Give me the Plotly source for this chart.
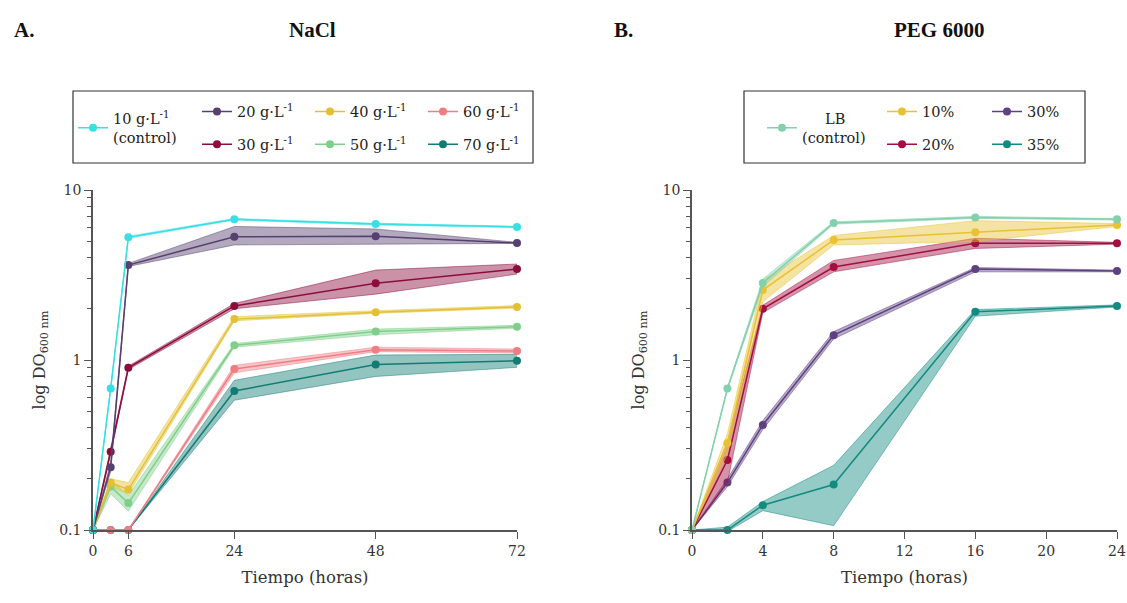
import plotly.graph_objects as go

# ---------------- DATA ----------------
t_nacl = [0, 3, 6, 24, 48, 72]
t_peg = [0, 2, 4, 8, 16, 24]

nacl_labels = ["10 g·L<sup>-1</sup><br>(control)", "20 g·L<sup>-1</sup>", "30 g·L<sup>-1</sup>",
               "40 g·L<sup>-1</sup>", "50 g·L<sup>-1</sup>", "60 g·L<sup>-1</sup>", "70 g·L<sup>-1</sup>"]
nacl_10 = [0.1, 0.68, 5.27, 6.73, 6.3, 6.06]
nacl_10_lo = [0.1, 0.67, 5.2, 6.65, 6.22, 6.0]
nacl_10_hi = [0.1, 0.69, 5.35, 6.8, 6.38, 6.12]
nacl_20 = [0.1, 0.234, 3.62, 5.31, 5.35, 4.88]
nacl_20_lo = [0.1, 0.22, 3.55, 4.75, 4.8, 4.85]
nacl_20_hi = [0.1, 0.25, 3.7, 6.1, 5.9, 4.92]
nacl_30 = [0.1, 0.289, 0.90, 2.08, 2.83, 3.43]
nacl_30_lo = [0.1, 0.28, 0.88, 2.0, 2.44, 3.2]
nacl_30_hi = [0.1, 0.30, 0.92, 2.15, 3.38, 3.67]
nacl_40 = [0.1, 0.19, 0.173, 1.74, 1.91, 2.05]
nacl_40_lo = [0.1, 0.18, 0.163, 1.70, 1.88, 2.02]
nacl_40_hi = [0.1, 0.20, 0.19, 1.80, 1.95, 2.09]
nacl_50 = [0.1, 0.18, 0.144, 1.22, 1.47, 1.57]
nacl_50_lo = [0.1, 0.163, 0.129, 1.19, 1.41, 1.54]
nacl_50_hi = [0.1, 0.197, 0.16, 1.25, 1.52, 1.60]
nacl_60 = [0.1, 0.1, 0.1, 0.885, 1.15, 1.13]
nacl_60_lo = [0.1, 0.1, 0.1, 0.84, 1.12, 1.10]
nacl_60_hi = [0.1, 0.1, 0.1, 0.93, 1.19, 1.16]
nacl_70 = [0.1, 0.1, 0.1, 0.657, 0.94, 0.99]
nacl_70_lo = [0.1, 0.1, 0.1, 0.58, 0.80, 0.905]
nacl_70_hi = [0.1, 0.1, 0.1, 0.76, 1.07, 1.08]

peg_labels = ["\u00a0\u00a0\u00a0\u00a0\u00a0LB<br>(control)", "10%", "20%", "30%", "35%"]
peg_lb = [0.1, 0.68, 2.84, 6.4, 6.9, 6.73]
peg_lb_lo = [0.1, 0.67, 2.7, 6.3, 6.8, 6.65]
peg_lb_hi = [0.1, 0.69, 3.0, 6.5, 7.0, 6.8]
peg_10 = [0.1, 0.325, 2.58, 5.08, 5.64, 6.22]
peg_10_lo = [0.1, 0.28, 2.2, 4.75, 4.97, 6.1]
peg_10_hi = [0.1, 0.37, 2.95, 5.4, 6.6, 6.35]
peg_20 = [0.1, 0.258, 2.0, 3.52, 4.86, 4.86]
peg_20_lo = [0.1, 0.19, 1.9, 3.3, 4.53, 4.8]
peg_20_hi = [0.1, 0.33, 2.1, 3.85, 5.2, 4.92]
peg_30 = [0.1, 0.19, 0.415, 1.4, 3.43, 3.34]
peg_30_lo = [0.1, 0.18, 0.39, 1.33, 3.3, 3.3]
peg_30_hi = [0.1, 0.20, 0.44, 1.47, 3.5, 3.38]
peg_35 = [0.1, 0.1, 0.14, 0.185, 1.92, 2.08]
peg_35_lo = [0.1, 0.098, 0.13, 0.106, 1.81, 2.05]
peg_35_hi = [0.1, 0.104, 0.147, 0.24, 1.98, 2.11]

nacl_colors = ["#38dfe3", "#56406f", "#8c0d3c", "#e3c034", "#7fcf8a", "#ef7d84", "#127c74"]
peg_colors = ["#83d0ad", "#e8c232", "#a20f40", "#5e4181", "#138b80"]

nacl_xticks = [0, 6, 24, 48, 72]
peg_xticks = [0, 4, 8, 12, 16, 20, 24]
y_ticks = [0.1, 1, 10]
y_ticktext = ["0.1", "1", "10"]
y_minor = [0.2, 0.3, 0.4, 0.5, 0.6, 0.7, 0.8, 0.9, 2, 3, 4, 5, 6, 7, 8, 9]

# ---------------- FIGURE ----------------
FONT = "DejaVu Serif"
TFONT = "Liberation Serif"
fig = go.Figure()


def rgba(hexc, a):
    h = hexc.lstrip("#")
    r, g, b = int(h[0:2], 16), int(h[2:4], 16), int(h[4:6], 16)
    return f"rgba({r},{g},{b},{a})"


def add_series(x, mean, lo, hi, color, name, xa, ya, legend, group, rank):
    fig.add_trace(go.Scatter(x=x, y=hi, mode="lines", line=dict(width=0.8, color=rgba(color, 0.6)),
                             showlegend=False, legendgroup=group, hoverinfo="skip", xaxis=xa, yaxis=ya))
    fig.add_trace(go.Scatter(x=x, y=lo, mode="lines", line=dict(width=0.8, color=rgba(color, 0.6)),
                             fill="tonexty", fillcolor=rgba(color, 0.45),
                             showlegend=False, legendgroup=group, hoverinfo="skip", xaxis=xa, yaxis=ya))
    fig.add_trace(go.Scatter(x=x, y=mean, mode="lines+markers", name=name,
                             line=dict(width=1.5, color=color), marker=dict(size=8, color=color),
                             legend=legend, legendgroup=group, legendrank=rank, cliponaxis=False,
                             xaxis=xa, yaxis=ya))


nacl_series = [
    (nacl_10, nacl_10_lo, nacl_10_hi, "legend"),
    (nacl_20, nacl_20_lo, nacl_20_hi, "legend2"),
    (nacl_30, nacl_30_lo, nacl_30_hi, "legend2"),
    (nacl_40, nacl_40_lo, nacl_40_hi, "legend3"),
    (nacl_50, nacl_50_lo, nacl_50_hi, "legend3"),
    (nacl_60, nacl_60_lo, nacl_60_hi, "legend4"),
    (nacl_70, nacl_70_lo, nacl_70_hi, "legend4"),
]
for i in reversed(range(len(nacl_series))):
    m, lo, hi, lg = nacl_series[i]
    add_series(t_nacl, m, lo, hi, nacl_colors[i], nacl_labels[i], "x", "y", lg, f"a{i}", i + 1)

peg_series = [
    (peg_lb, peg_lb_lo, peg_lb_hi, "legend5"),
    (peg_10, peg_10_lo, peg_10_hi, "legend6"),
    (peg_20, peg_20_lo, peg_20_hi, "legend6"),
    (peg_30, peg_30_lo, peg_30_hi, "legend7"),
    (peg_35, peg_35_lo, peg_35_hi, "legend7"),
]
for i in reversed(range(len(peg_series))):
    m, lo, hi, lg = peg_series[i]
    add_series(t_peg, m, lo, hi, peg_colors[i], peg_labels[i], "x2", "y2", lg, f"b{i}", i + 1)

# ---------------- LAYOUT ----------------
W, H = 1127, 603
L, R, T, B = 93, 10, 190, 73
PW, PH = W - L - R, H - T - B


def px_x(p):
    return (p - L) / PW


def px_y(p):
    return (H - B - p) / PH


axis_common = dict(showline=True, linecolor="#555", linewidth=1.5, ticks="outside", ticklen=7,
                   tickwidth=1.3, tickcolor="#555", showgrid=False, zeroline=False, automargin=False,
                   tickfont=dict(family=FONT, size=14, color="#333"))
x_title = dict(text="Tiempo (horas)", font=dict(family=FONT, size=16.5, color="#333"), standoff=14)
y_title = dict(text="log DO<sub>600 nm</sub>", font=dict(family=FONT, size=16, color="#333"), standoff=10)
y_common = dict(type="log", range=[-1, 1], tickvals=y_ticks, ticktext=y_ticktext,
                minor=dict(ticks="outside", ticklen=4, tickvals=y_minor, tickcolor="#555", tickwidth=1),
                title=y_title, **axis_common)

legend_common = dict(font=dict(family=FONT, size=14.5, color="#222"), bgcolor="rgba(0,0,0,0)",
                     traceorder="grouped", tracegroupgap=11, itemwidth=30, yanchor="middle",
                     xanchor="left", y=px_y(128), valign="middle")

fig.update_layout(
    width=W, height=H, autosize=False, margin=dict(l=L, r=R, t=T, b=B, autoexpand=False),
    plot_bgcolor="white", paper_bgcolor="white",
    xaxis=dict(domain=[0, px_x(517)], range=[0, 72], tickvals=nacl_xticks, title=x_title, **axis_common),
    yaxis=dict(anchor="x", **y_common),
    xaxis2=dict(domain=[px_x(692), 1], range=[0, 24], tickvals=peg_xticks, anchor="y2", title=x_title,
                **axis_common),
    yaxis2=dict(anchor="x2", **y_common),
    legend=dict(x=px_x(73), **legend_common),
    legend2=dict(x=px_x(197), **legend_common),
    legend3=dict(x=px_x(310), **legend_common),
    legend4=dict(x=px_x(423), **legend_common),
    legend5=dict(x=px_x(762), **legend_common),
    legend6=dict(x=px_x(882), **legend_common),
    legend7=dict(x=px_x(987), **legend_common),
    shapes=[
        dict(type="rect", xref="paper", yref="paper", x0=px_x(73), x1=px_x(533), y0=px_y(163), y1=px_y(91),
             line=dict(color="#333", width=1.2)),
        dict(type="rect", xref="paper", yref="paper", x0=px_x(744), x1=px_x(1085), y0=px_y(163), y1=px_y(91),
             line=dict(color="#333", width=1.2)),
    ],
    annotations=[
        dict(text="<b>A.</b>", x=px_x(12), y=px_y(30), xref="paper", yref="paper", xanchor="left",
             yanchor="middle", showarrow=False, font=dict(family=TFONT, size=21, color="#111")),
        dict(text="<b>NaCl</b>", x=px_x(312), y=px_y(30), xref="paper", yref="paper", xanchor="center",
             yanchor="middle", showarrow=False, font=dict(family=TFONT, size=21, color="#111")),
        dict(text="<b>B.</b>", x=px_x(612), y=px_y(30), xref="paper", yref="paper", xanchor="left",
             yanchor="middle", showarrow=False, font=dict(family=TFONT, size=21, color="#111")),
        dict(text="<b>PEG 6000</b>", x=px_x(939), y=px_y(30), xref="paper", yref="paper", xanchor="center",
             yanchor="middle", showarrow=False, font=dict(family=TFONT, size=21, color="#111")),
    ],
)

fig.write_html(
    "out.html",
    config={"responsive": False, "displayModeBar": False},
    post_script="document.body.style.margin='0';document.documentElement.style.overflow='hidden';"
                "document.body.style.overflow='hidden';",
)
